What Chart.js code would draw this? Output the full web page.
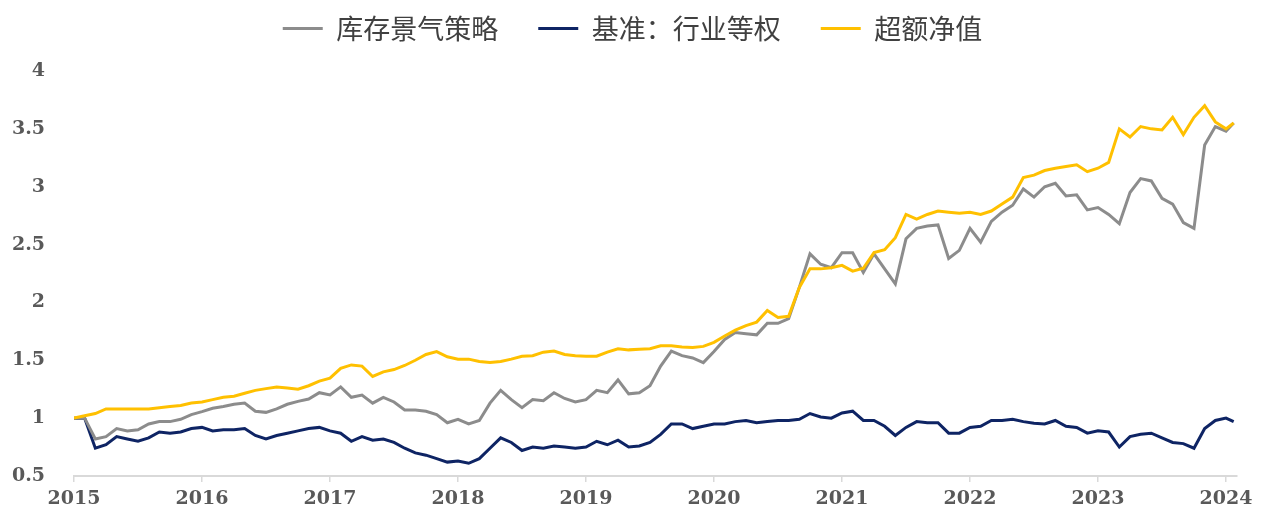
<!DOCTYPE html>
<html>
<head>
<meta charset="utf-8">
<script src="https://cdn.jsdelivr.net/npm/chart.js@4.4.1/dist/chart.umd.min.js"></script>
<style>
  html, body { margin: 0; padding: 0; background: #ffffff; }
  #wrap { width: 1266px; height: 528px; position: relative; }
</style>
</head>
<body>
<div id="wrap"><canvas id="c" width="1266" height="528"></canvas></div>
<script>
// Month index grid: Jan 2015 .. Jan 2024 (fractional years), last point early Feb 2024
const months = [];
for (let i = 0; i <= 108; i++) months.push(2015 + i / 12);
months.push(2024.06);

const seriesNames = ['库存景气策略', '基准：行业等权', '超额净值'];
const xTickYears = [2015, 2016, 2017, 2018, 2019, 2020, 2021, 2022, 2023, 2024];
const yTicks = [0.5, 1, 1.5, 2, 2.5, 3, 3.5, 4];

const strategy = [
  1.00, 1.00, 0.82, 0.84, 0.91, 0.89, 0.90, 0.95, 0.97, 0.97, 0.99, 1.03,
  1.056, 1.085, 1.10, 1.12, 1.13, 1.06, 1.05, 1.08, 1.12, 1.145, 1.165, 1.22,
  1.20, 1.27, 1.18, 1.20, 1.13, 1.18, 1.14, 1.07, 1.07, 1.06, 1.03, 0.96,
  0.99, 0.95, 0.98, 1.13, 1.24, 1.16, 1.09, 1.16, 1.15, 1.22, 1.17, 1.14,
  1.16, 1.24, 1.22, 1.33, 1.21, 1.22, 1.28, 1.45, 1.58, 1.54, 1.52, 1.48,
  1.575, 1.68, 1.74, 1.73, 1.72, 1.82, 1.82, 1.86, 2.13, 2.42, 2.33, 2.30,
  2.43, 2.43, 2.26, 2.42, 2.29, 2.16, 2.55, 2.64, 2.66, 2.67, 2.38, 2.45,
  2.64, 2.52, 2.70, 2.78, 2.84, 2.98, 2.91, 3.00, 3.03, 2.92, 2.93, 2.80,
  2.82, 2.76, 2.68, 2.95, 3.07, 3.05, 2.90, 2.85, 2.69, 2.64, 3.36, 3.52,
  3.48, 3.55
];

const benchmark = [
  1.00, 1.00, 0.74, 0.77, 0.84, 0.82, 0.80, 0.83, 0.88, 0.87, 0.88, 0.91,
  0.92, 0.89, 0.90, 0.90, 0.91, 0.85, 0.82, 0.85, 0.87, 0.89, 0.91, 0.92,
  0.89, 0.87, 0.80, 0.84, 0.81, 0.82, 0.79, 0.74, 0.70, 0.68, 0.65, 0.62,
  0.63, 0.61, 0.65, 0.74, 0.83, 0.79, 0.72, 0.75, 0.74, 0.76, 0.75, 0.74,
  0.75, 0.80, 0.77, 0.81, 0.75, 0.76, 0.79, 0.86, 0.95, 0.95, 0.91, 0.93,
  0.95, 0.95, 0.97, 0.98, 0.96, 0.97, 0.98, 0.98, 0.99, 1.04, 1.01, 1.00,
  1.045, 1.06, 0.98, 0.98, 0.93, 0.85, 0.92, 0.97, 0.96, 0.96, 0.87, 0.87,
  0.92, 0.93, 0.98, 0.98, 0.99, 0.97, 0.955, 0.95, 0.98, 0.93, 0.92, 0.87,
  0.89, 0.88, 0.75, 0.84, 0.86, 0.87, 0.83, 0.79, 0.78, 0.74, 0.91, 0.98,
  1.00, 0.97
];

const excess = [
  1.00, 1.02, 1.04, 1.08, 1.08, 1.08, 1.08, 1.08, 1.09, 1.10, 1.11, 1.13,
  1.14, 1.16, 1.18, 1.19, 1.215, 1.24, 1.255, 1.27, 1.26, 1.25, 1.28, 1.32,
  1.345, 1.43, 1.46, 1.45, 1.36, 1.40, 1.42, 1.455, 1.50, 1.55, 1.575, 1.53,
  1.51, 1.51, 1.49, 1.48, 1.49, 1.51, 1.535, 1.54, 1.57, 1.58, 1.55, 1.54,
  1.535, 1.535, 1.57, 1.60, 1.59, 1.595, 1.60, 1.625, 1.625, 1.615, 1.61, 1.62,
  1.655, 1.71, 1.76, 1.80, 1.83, 1.93, 1.87, 1.88, 2.13, 2.29, 2.29, 2.30,
  2.32, 2.27, 2.295, 2.43, 2.455, 2.56, 2.76, 2.72, 2.76, 2.79, 2.78, 2.77,
  2.78, 2.76, 2.79, 2.85, 2.91, 3.08, 3.10, 3.14, 3.16, 3.175, 3.19, 3.13,
  3.16, 3.21, 3.50, 3.43, 3.52, 3.50, 3.49, 3.60, 3.45, 3.60, 3.70, 3.56,
  3.50, 3.55
];

function toPoints(vals) { return vals.map((v, i) => ({ x: months[i], y: v })); }

const colors = ['#8c8c8c', '#0e2464', '#ffc000'];
const tickFont = { family: 'DejaVu Serif', size: 19, weight: 'bold' };

// fixes the legend block height (so the plot area starts where the reference does)
// and nudges the legend row into the reference position after widening the item gaps
const legendTune = {
  id: 'legendTune',
  beforeInit(chart) {
    const lg = chart.legend;
    if (!lg) return;
    const origFit = lg.fit;
    lg.fit = function () { origFit.call(this); this.height = 67; };
    const origDraw = lg.draw;
    lg.draw = function () {
      const ctx = this.ctx;
      ctx.save();
      ctx.translate(14, -29);
      origDraw.call(this);
      ctx.restore();
    };
  }
};

new Chart(document.getElementById('c'), {
  type: 'line',
  data: {
    datasets: [strategy, benchmark, excess].map((vals, k) => ({
      label: seriesNames[k],
      data: toPoints(vals),
      borderColor: colors[k],
      backgroundColor: colors[k],
      borderWidth: 3,
      pointRadius: 0,
      tension: 0,
      order: k === 2 ? 0 : k + 1
    }))
  },
  plugins: [legendTune],
  options: {
    responsive: false,
    animation: false,
    devicePixelRatio: 1,
    layout: { padding: { left: 0, right: 29, top: 4, bottom: 0 } },
    plugins: {
      tooltip: { enabled: false },
      legend: {
        position: 'top',
        align: 'center',
        labels: {
          usePointStyle: true,
          pointStyle: 'line',
          pointStyleWidth: 40,
          padding: 40,
          color: '#404040',
          font: { family: 'Noto Sans CJK SC', size: 27 },
          sort: (a, b) => a.datasetIndex - b.datasetIndex
        }
      }
    },
    scales: {
      x: {
        type: 'linear',
        min: 2015,
        max: 2024.086,
        afterFit: s => { s.height = 52; },
        grid: { display: true, drawOnChartArea: false, drawTicks: true, tickLength: 6, color: '#d9d9d9', lineWidth: 1.5 },
        border: { display: true, color: '#d9d9d9', width: 2 },
        ticks: {
          stepSize: 1,
          includeBounds: false,
          autoSkip: false,
          maxRotation: 0,
          padding: 6,
          color: '#595959',
          font: tickFont,
          callback: v => (xTickYears.includes(v) ? String(v) : '')
        }
      },
      y: {
        min: 0.5,
        max: 4,
        afterFit: s => { s.width = 74; },
        grid: { display: false },
        border: { display: false },
        ticks: {
          stepSize: 0.5,
          padding: 21,
          color: '#595959',
          font: tickFont,
          callback: v => (yTicks.includes(v) ? String(v) : '')
        }
      }
    }
  }
});
</script>
</body>
</html>
